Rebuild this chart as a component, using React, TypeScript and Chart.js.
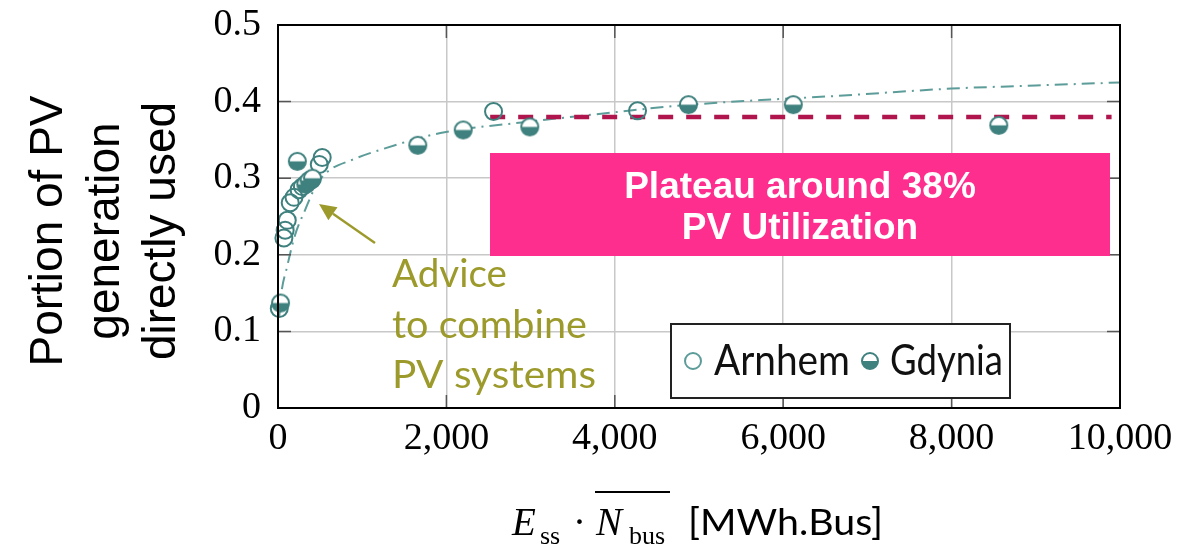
import React, { useEffect, useRef } from 'react';
import { Chart, registerables } from 'chart.js';

Chart.register(...registerables);

// ---- data ----
const xTickValues = [0, 2000, 4000, 6000, 8000, 10000];
const xTickLabels = ['0', '2,000', '4,000', '6,000', '8,000', '10,000'];
const yTickValues = [0, 0.1, 0.2, 0.3, 0.4, 0.5];
const yTickLabels = ['0', '0.1', '0.2', '0.3', '0.4', '0.5'];

const arnhemX = [15, 70, 85, 110, 145, 190, 250, 290, 340, 400, 490, 525, 2560, 4270];
const arnhemY = [0.13, 0.222, 0.232, 0.245, 0.268, 0.275, 0.285, 0.289, 0.293, 0.298, 0.318, 0.327, 0.387, 0.388];

const gdyniaX = [30, 230, 330, 370, 410, 1660, 2200, 2990, 4875, 6120, 8560];
const gdyniaY = [0.137, 0.322, 0.292, 0.297, 0.3, 0.343, 0.363, 0.367, 0.396, 0.396, 0.369];

const fitX = [15, 40, 107, 200, 320, 450, 582, 880, 1214, 1929, 3000, 3988, 4786, 5738, 6571, 8000, 9000, 10000];
const fitY = [0.12, 0.15, 0.184, 0.225, 0.258, 0.29, 0.308, 0.324, 0.337, 0.359, 0.374, 0.386, 0.395, 0.402, 0.407, 0.417, 0.421, 0.425];

const plateauX = [2520, 9900];
const plateauY = [0.38, 0.38];

const seriesNames = ['Arnhem', 'Gdynia'];
const boxLines = ['Plateau around 38%', 'PV Utilization'];
const adviceLines = ['Advice', 'to combine', 'PV systems'];
const yTitleLines = ['Portion of PV', 'generation', 'directly used'];

// ---- styles ----
const TEAL = '#3f817e';
const FIT = '#5c9c99';
const RED = '#b0154d';
const PINK = '#fe2e8e';
const OLIVE = '#9d9a2c';
const GRID = '#c8c8c8';
const SANS = 'Lato, "Noto Sans", sans-serif';
const SERIF = '"Liberation Serif", "Times New Roman", serif';

function halfCircle(r: number, lw: number, color: string): HTMLCanvasElement {
  const s = Math.ceil(2 * r + lw + 2);
  const c = document.createElement('canvas');
  c.width = s;
  c.height = s;
  const g = c.getContext('2d')!;
  const cx = s / 2;
  g.beginPath();
  g.arc(cx, cx, r, 0, 2 * Math.PI);
  g.fillStyle = '#ffffff';
  g.fill();
  g.beginPath();
  g.arc(cx, cx, r, 0, Math.PI);
  g.closePath();
  g.fillStyle = color;
  g.fill();
  g.beginPath();
  g.arc(cx, cx, r, 0, 2 * Math.PI);
  g.lineWidth = lw;
  g.strokeStyle = color;
  g.stroke();
  return c;
}

// draw text left-aligned, stretched horizontally to a target width
function fitText(ctx: CanvasRenderingContext2D, text: string, x: number, y: number, font: string, width: number) {
  ctx.save();
  ctx.font = font;
  ctx.textAlign = 'left';
  ctx.textBaseline = 'alphabetic';
  const w = ctx.measureText(text).width || 1;
  ctx.translate(x, y);
  ctx.scale(width / w, 1);
  ctx.fillText(text, 0, 0);
  ctx.restore();
}

const overlayPlugin = {
  id: 'overlay',
  afterDatasetsDraw(chart: any) {
    const ctx = chart.ctx as CanvasRenderingContext2D;
    const { left, right, top, bottom } = chart.chartArea;
    const xs = chart.scales.x;
    const ys = chart.scales.y;
    ctx.save();

    // inward tick marks
    ctx.strokeStyle = '#555';
    ctx.lineWidth = 1.5;
    const tl = 13;
    xTickValues.slice(1, -1).forEach((v) => {
      const px = xs.getPixelForValue(v);
      ctx.beginPath();
      ctx.moveTo(px, bottom);
      ctx.lineTo(px, bottom - tl);
      ctx.moveTo(px, top);
      ctx.lineTo(px, top + tl);
      ctx.stroke();
    });
    yTickValues.slice(1, -1).forEach((v) => {
      const py = ys.getPixelForValue(v);
      ctx.beginPath();
      ctx.moveTo(left, py);
      ctx.lineTo(left + tl, py);
      ctx.moveTo(right, py);
      ctx.lineTo(right - tl, py);
      ctx.stroke();
    });

    // frame
    ctx.strokeStyle = '#000';
    ctx.lineWidth = 2;
    ctx.strokeRect(left, top, right - left, bottom - top);

    // pink annotation box
    const bx0 = 490, bx1 = 1110, by0 = 153, by1 = 256;
    ctx.fillStyle = PINK;
    ctx.fillRect(bx0, by0, bx1 - bx0, by1 - by0);
    ctx.fillStyle = '#fff';
    ctx.font = 'bold 37px "Liberation Sans", Arial, sans-serif';
    ctx.textAlign = 'center';
    ctx.textBaseline = 'alphabetic';
    ctx.fillText(boxLines[0], 800, 198);
    ctx.fillText(boxLines[1], 800, 239);

    // legend box
    const lx0 = 671, lx1 = 1010, ly0 = 324, ly1 = 398;
    ctx.fillStyle = '#fff';
    ctx.fillRect(lx0, ly0, lx1 - lx0, ly1 - ly0);
    ctx.strokeStyle = '#222';
    ctx.lineWidth = 2;
    ctx.strokeRect(lx0, ly0, lx1 - lx0, ly1 - ly0);
    const my = 361;
    ctx.beginPath();
    ctx.arc(693, my, 8, 0, 2 * Math.PI);
    ctx.strokeStyle = FIT;
    ctx.lineWidth = 2;
    ctx.stroke();
    const hc = halfCircle(8, 2, TEAL);
    ctx.drawImage(hc, 870 - hc.width / 2, my - hc.height / 2);
    ctx.fillStyle = '#111';
    fitText(ctx, seriesNames[0], 714, 375, '42px ' + SANS, 136);
    fitText(ctx, seriesNames[1], 890, 375, '42px ' + SANS, 113);

    // advice text + arrow
    ctx.fillStyle = OLIVE;
    fitText(ctx, adviceLines[0], 392, 287, '38px ' + SANS, 115);
    fitText(ctx, adviceLines[1], 392, 338, '38px ' + SANS, 195);
    fitText(ctx, adviceLines[2], 392, 388, '38px ' + SANS, 204);

    const ax0 = 375, ay0 = 243, ax1 = 319, ay1 = 204;
    const ang = Math.atan2(ay1 - ay0, ax1 - ax0);
    const hl = 17, hw = 8;
    const bxh = ax1 - hl * Math.cos(ang);
    const byh = ay1 - hl * Math.sin(ang);
    ctx.strokeStyle = OLIVE;
    ctx.lineWidth = 2.5;
    ctx.beginPath();
    ctx.moveTo(ax0, ay0);
    ctx.lineTo(bxh, byh);
    ctx.stroke();
    ctx.beginPath();
    ctx.moveTo(ax1, ay1);
    ctx.lineTo(bxh + hw * Math.sin(ang), byh - hw * Math.cos(ang));
    ctx.lineTo(bxh - hw * Math.sin(ang), byh + hw * Math.cos(ang));
    ctx.closePath();
    ctx.fill();

    ctx.restore();
  },
  afterDraw(chart: any) {
    const ctx = chart.ctx as CanvasRenderingContext2D;
    ctx.save();
    // y-axis title (rotated, 3 lines)
    ctx.translate(0, 231);
    ctx.rotate(-Math.PI / 2);
    ctx.fillStyle = '#000';
    ctx.font = '46px "Liberation Sans", Arial, sans-serif';
    ctx.textAlign = 'center';
    ctx.textBaseline = 'alphabetic';
    ctx.fillText(yTitleLines[0], 0, 62);
    ctx.fillText(yTitleLines[1], 0, 119);
    ctx.fillText(yTitleLines[2], 0, 175);
    ctx.restore();

    // x-axis title: E_ss · overline(N)_bus [MWh.Bus]
    ctx.save();
    ctx.fillStyle = '#000';
    ctx.textAlign = 'left';
    ctx.textBaseline = 'alphabetic';
    const base = 535;
    const sub = 544;
    ctx.font = 'italic 39px ' + SERIF;
    ctx.fillText('E', 512, base);
    ctx.font = '26px ' + SERIF;
    ctx.fillText('ss', 540, sub);
    ctx.font = '39px ' + SERIF;
    ctx.fillText('·', 573, base);
    ctx.font = 'italic 39px ' + SERIF;
    ctx.fillText('N', 596, base);
    ctx.font = '26px ' + SERIF;
    ctx.fillText('bus', 629, sub);
    ctx.strokeStyle = '#000';
    ctx.lineWidth = 2;
    ctx.beginPath();
    ctx.moveTo(595, 492);
    ctx.lineTo(670, 492);
    ctx.stroke();
    fitText(ctx, '[MWh.Bus]', 688, base, '37px ' + SANS, 195);
    ctx.restore();
  },
};

export default function App() {
  const ref = useRef<HTMLCanvasElement | null>(null);

  useEffect(() => {
    if (!ref.current) return;
    const halfImg = halfCircle(8.5, 2, TEAL);
    const chart = new Chart(ref.current, {
      type: 'line',
      data: {
        datasets: [
          {
            label: 'fit',
            data: fitX.map((x, i) => ({ x, y: fitY[i] })),
            borderColor: FIT,
            borderWidth: 2,
            borderDash: [13, 6, 2, 6],
            pointRadius: 0,
            fill: false,
            cubicInterpolationMode: 'monotone',
            order: 4,
          } as any,
          {
            label: 'plateau',
            data: plateauX.map((x, i) => ({ x, y: plateauY[i] })),
            borderColor: RED,
            borderWidth: 4.5,
            borderDash: [15, 13],
            pointRadius: 0,
            fill: false,
            order: 3,
          } as any,
          {
            label: seriesNames[0],
            data: arnhemX.map((x, i) => ({ x, y: arnhemY[i] })),
            showLine: false,
            pointStyle: 'circle',
            pointRadius: 8.5,
            pointBorderWidth: 2,
            pointBorderColor: TEAL,
            pointBackgroundColor: 'rgba(0,0,0,0)',
            borderColor: TEAL,
            backgroundColor: 'rgba(0,0,0,0)',
            clip: false,
            order: 2,
          } as any,
          {
            label: seriesNames[1],
            data: gdyniaX.map((x, i) => ({ x, y: gdyniaY[i] })),
            showLine: false,
            pointStyle: halfImg,
            pointRadius: 9,
            borderColor: TEAL,
            backgroundColor: TEAL,
            clip: false,
            order: 1,
          } as any,
        ],
      },
      options: {
        animation: false,
        responsive: false,
        layout: { padding: { top: 25, right: 64, left: 0, bottom: 0 } },
        plugins: {
          legend: { display: false },
          tooltip: { enabled: false },
        },
        events: [],
        scales: {
          x: {
            type: 'linear',
            min: 0,
            max: 10000,
            afterFit: (s: any) => {
              s.height = 141;
              s.paddingLeft = 0;
              s.paddingRight = 0;
              s.paddingTop = 0;
              s.paddingBottom = 0;
            },
            afterBuildTicks: (s: any) => {
              s.ticks = xTickValues.map((v) => ({ value: v }));
            },
            ticks: {
              callback: (v: any) => xTickLabels[xTickValues.indexOf(Number(v))] ?? '',
              font: { family: SERIF, size: 38 },
              color: '#000',
              padding: 8,
              maxRotation: 0,
            },
            grid: { color: GRID, lineWidth: 1.5, drawTicks: false },
            border: { display: false },
          },
          y: {
            type: 'linear',
            min: 0,
            max: 0.5,
            afterFit: (s: any) => {
              s.width = 278;
              s.paddingLeft = 0;
              s.paddingRight = 0;
              s.paddingTop = 0;
              s.paddingBottom = 0;
            },
            afterBuildTicks: (s: any) => {
              s.ticks = yTickValues.map((v) => ({ value: v }));
            },
            ticks: {
              callback: (v: any) => {
                const i = yTickValues.findIndex((t) => Math.abs(t - Number(v)) < 1e-9);
                return i >= 0 ? yTickLabels[i] : '';
              },
              font: { family: SERIF, size: 38 },
              color: '#000',
              padding: 17,
            },
            grid: { color: GRID, lineWidth: 1.5, drawTicks: false },
            border: { display: false },
          },
        },
      } as any,
      plugins: [overlayPlugin],
    });
    return () => chart.destroy();
  }, []);

  return (
    <div style={{ position: 'absolute', left: 0, top: 0, width: 1184, height: 549, background: '#fff' }}>
      <canvas ref={ref} width={1184} height={549} style={{ display: 'block' }} />
    </div>
  );
}
